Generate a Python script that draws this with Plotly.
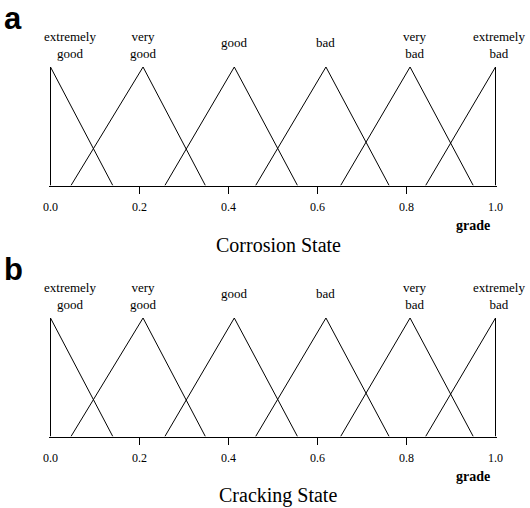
import plotly.graph_objects as go

# ---- data ----
categories = ["extremely good", "very good", "good", "bad", "very bad", "extremely bad"]
label_text = ["extremely<br>good", "very<br>good", "good", "bad", "very<br>bad", "extremely<br>bad"]
left_foot = [0.0, 0.046, 0.257, 0.461, 0.652, 0.843]
peak = [0.0, 0.208, 0.413, 0.619, 0.808, 1.0]
right_foot = [0.140, 0.348, 0.555, 0.761, 0.950, 1.0]
membership = [0, 1, 0]
tick_vals = [0.0, 0.2, 0.4, 0.6, 0.8, 1.0]
tick_text = ["0.0", "0.2", "0.4", "0.6", "0.8", "1.0"]
tick_marks = [0.2, 0.4, 0.6, 0.8]
panel_titles = ["Corrosion State", "Cracking State"]
panel_letters = ["a", "b"]

# ---- style / layout ----
W, H = 530, 508
SERIF = "Liberation Serif, Times New Roman, serif"
SANS = "Liberation Sans, Arial, sans-serif"
x0_px, x1_px = 50.5, 495.5          # data 0 and 1
pad = 0.004
xr = [-pad, 1 + pad]
unit_px = x1_px - x0_px
xd = [(x0_px - pad * unit_px) / W, (x1_px + pad * unit_px) / W]
base_px = [185.5, 436.5]            # y = 0 for each panel
top_px = [67.0, 318.0]              # y = 1 for each panel
ytop = 1.03
label_xshift = [19, 0, 0, 0, 5, 3]

fig = go.Figure()
layout = dict(width=W, height=H, margin=dict(l=0, r=0, t=0, b=0, pad=0, autoexpand=False),
              paper_bgcolor="white", plot_bgcolor="white", showlegend=False)
annotations = []

for p in range(2):
    xa = "x" if p == 0 else "x2"
    ya = "y" if p == 0 else "y2"
    xo = "x3" if p == 0 else "x4"
    for i in range(len(categories)):
        fig.add_trace(go.Scatter(
            x=[left_foot[i], peak[i], right_foot[i]], y=membership,
            mode="lines", line=dict(color="black", width=1),
            name=categories[i], xaxis=xa, yaxis=ya, hoverinfo="skip"))
    fig.add_trace(go.Scatter(x=[], y=[], xaxis=xo, yaxis=ya, hoverinfo="skip"))

    upx = base_px[p] - top_px[p]
    ydom = [1 - base_px[p] / H, 1 - (top_px[p] - (ytop - 1) * upx) / H]
    sfx = "" if p == 0 else "2"
    osfx = "3" if p == 0 else "4"
    layout["xaxis" + sfx] = dict(
        domain=xd, range=xr, anchor=ya, showline=True, linecolor="black", linewidth=1,
        tickmode="array", tickvals=tick_vals, ticktext=tick_text, ticks="",
        tickfont=dict(family=SERIF, size=12, color="black"), automargin=False,
        showgrid=False, zeroline=False, fixedrange=True, ticklabelstandoff=10)
    layout["xaxis" + osfx] = dict(
        overlaying=xa, anchor=ya, range=xr, side="bottom", automargin=False,
        tickmode="array", tickvals=tick_marks, ticks="outside", ticklen=7,
        tickcolor="black", tickwidth=1, showticklabels=False,
        showline=False, showgrid=False, zeroline=False, fixedrange=True)
    layout["yaxis" + sfx] = dict(domain=ydom, range=[0, ytop], visible=False,
                                 automargin=False, fixedrange=True)

    # category labels above the peaks
    for i in range(len(categories)):
        two = "<br>" in label_text[i]
        annotations.append(dict(
            x=peak[i], y=1, xref=xa, yref=ya, text=label_text[i], showarrow=False,
            xanchor="center", yanchor="middle", xshift=label_xshift[i],
            yshift=22 if two else 25, align="center",
            font=dict(family=SERIF, size=13, color="black")))
    # "grade"
    annotations.append(dict(
        x=1, y=0, xref=xa, yref=ya, text="<b>grade</b>", showarrow=False,
        xanchor="right", yanchor="middle", xshift=-4, yshift=-40,
        font=dict(family=SERIF, size=14, color="black")))
    # panel title
    annotations.append(dict(
        x=0.5, y=0, xref=xa + " domain", yref=ya + " domain", text=panel_titles[p],
        showarrow=False, xanchor="center", yanchor="middle", xshift=5, yshift=-59,
        font=dict(family=SERIF, size=20, color="black")))
    # panel letter
    annotations.append(dict(
        x=13 / W, y=1 - (base_px[p] - 185.5 + 18) / H, xref="paper", yref="paper",
        text="<b>" + panel_letters[p] + "</b>", showarrow=False,
        xanchor="center", yanchor="middle",
        font=dict(family=SANS, size=31, color="black")))

layout["annotations"] = annotations
fig.update_layout(**layout)
fig.write_html("out.html",
               config={"displayModeBar": False, "staticPlot": True},
               post_script="document.body.style.margin='0';document.body.style.overflow='hidden';")
